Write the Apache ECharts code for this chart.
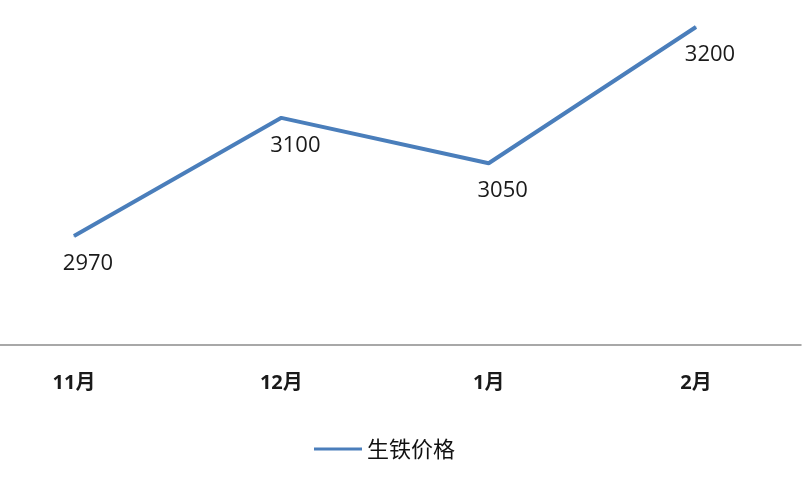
<!DOCTYPE html>
<html>
<head>
<meta charset="utf-8">
<script src="https://cdn.jsdelivr.net/npm/echarts@6/dist/echarts.min.js"></script>
<style>
  html, body { margin: 0; padding: 0; background: #fff; }
  #chart { width: 807px; height: 477px; }
</style>
</head>
<body>
<div id="chart"></div>
<script>
// Chart data
var categories = ['11月', '12月', '1月', '2月'];
var seriesName = '生铁价格';
var priceValues = [2970, 3100, 3050, 3200];

var lineColor = '#4a7ebb';
var chart = echarts.init(document.getElementById('chart'));

chart.setOption({
    animation: false,
    textStyle: {
        fontFamily: '"Open Sans", "Noto Sans CJK SC", sans-serif'
    },

    // Grid 0 holds the line, grid 1 only draws the full-width baseline
    grid: [
        { left: 74, right: 111, top: 27, bottom: 132 },
        { left: 0, right: 6, top: 27, bottom: 132 }
    ],

    // Legend
    legend: {
        data: [seriesName],
        top: 433,
        left: 309,
        icon: 'rect',
        itemWidth: 48,
        itemHeight: 3,
        itemGap: 6,
        itemStyle: { color: lineColor },
        textStyle: {
            fontSize: 22,
            color: '#111',
            fontFamily: '"Noto Sans CJK SC", sans-serif'
        }
    },

    // Horizontal axes
    xAxis: [{
        gridIndex: 0,
        type: 'category',
        data: categories,
        boundaryGap: false,
        axisLine: { show: false },
        axisTick: { show: false },
        axisLabel: {
            margin: 28,
            fontSize: 20,
            fontWeight: 'bold',
            color: '#1a1a1a',
            fontFamily: '"Open Sans", "Noto Sans CJK SC", sans-serif'
        }
    }, {
        gridIndex: 1,
        type: 'category',
        data: categories,
        axisLine: { lineStyle: { color: '#8c8c8c', width: 1.5 } },
        axisTick: { show: false },
        axisLabel: { show: false }
    }],

    // Vertical axes
    yAxis: [{
        gridIndex: 0,
        type: 'value',
        min: 2850,
        max: 3200,
        show: false
    }, {
        gridIndex: 1,
        type: 'value',
        show: false
    }],

    series: [{
        name: seriesName,
        type: 'line',
        xAxisIndex: 0,
        yAxisIndex: 0,
        data: priceValues,
        symbol: 'circle',
        symbolSize: 1,
        showSymbol: true,
        lineStyle: { color: lineColor, width: 4 },
        itemStyle: { color: lineColor },
        label: {
            show: true,
            position: 'bottom',
            offset: [14, 11],
            fontSize: 22,
            color: '#1a1a1a'
        }
    }]
});
</script>
</body>
</html>
